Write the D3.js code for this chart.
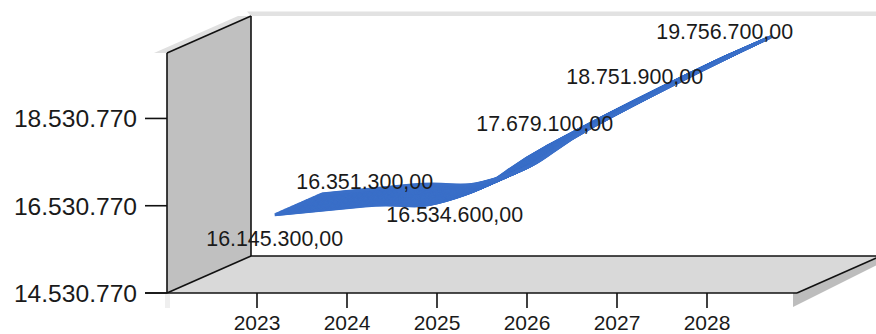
<!DOCTYPE html>
<html>
<head>
<meta charset="utf-8">
<script src="https://cdn.jsdelivr.net/npm/d3@7"></script>
<style>
  html, body { margin: 0; padding: 0; background: #fff; }
  svg { display: block; }
  text { font-family: "Liberation Sans", Arial, sans-serif; fill: #1a1a1a; }
</style>
</head>
<body>
<svg id="chart" width="876" height="334"></svg>
<script>
// Yearly values shown on the 3D spline
const years = ["2023", "2024", "2025", "2026", "2027", "2028"];
const values = [16145300, 16351300, 16534600, 17679100, 18751900, 19756700];
const yTicks = [14530770, 16530770, 18530770];
const yMin = 14530770;
const yMax = 20030770;

// Label placement around each point (pixels above/below the ribbon edge)
const labelShift = [24, -24.5, 16.5, -24.5, -24.5, -25.5];

const W = 876, H = 334;
const svg = d3.select("#chart");

// Front plane of the 3D box
const x = d3.scaleLinear().domain([0, years.length + 1]).range([167, 797]);
const y = d3.scaleLinear().domain([yMin, yMax]).range([293, 53]);

// Oblique depth offset (full depth of the plot box)
const DX = 84, DY = 37;
const P = (xv, yv, z) => [x(xv) + z * DX, y(yv) - z * DY];
const pts = arr => arr.map(p => p.join(",")).join(" ");

const xL = 0, xR = years.length + 1;

// Back wall top rim
const bt = P(xL, yMax, 1);
svg.append("polygon")
  .attr("points", pts([bt, [W, bt[1]], [W, bt[1] - 4.5], [bt[0] - 4, bt[1] - 4.5]]))
  .attr("fill", "#e2e2e2");

// Side wall top rim (wall thickness)
const wt = 13;
svg.append("polygon")
  .attr("points", pts([
    [P(xL, yMax, 0)[0] - wt, P(xL, yMax, 0)[1]],
    P(xL, yMax, 0),
    P(xL, yMax, 1),
    [P(xL, yMax, 1)[0] - wt, P(xL, yMax, 1)[1]]
  ]))
  .attr("fill", "#e0e0e0");

// Faint front edge of the wall base
svg.append("rect")
  .attr("x", x(xL) - 2).attr("y", y(yMin) + 1)
  .attr("width", 5).attr("height", 14)
  .attr("fill", "#efefef");

// Floor right side face
svg.append("polygon")
  .attr("points", pts([
    P(xR, yMin, 0),
    P(xR, yMin, 1),
    [P(xR, yMin, 1)[0], P(xR, yMin, 1)[1] + 7],
    [P(xR, yMin, 0)[0] - 4, P(xR, yMin, 0)[1] + 14],
    [P(xR, yMin, 0)[0] - 4, P(xR, yMin, 0)[1]]
  ]))
  .attr("fill", "#bdbdbd");

// Floor top face
svg.append("polygon")
  .attr("points", pts([P(xL, yMin, 0), P(xR, yMin, 0), P(xR, yMin, 1), P(xL, yMin, 1)]))
  .attr("fill", "#d9d9d9");

// Side wall
svg.append("polygon")
  .attr("points", pts([P(xL, yMin, 0), P(xL, yMax, 0), P(xL, yMax, 1), P(xL, yMin, 1)]))
  .attr("fill", "#c0c0c0");

const edge = (a, b) => svg.append("line")
  .attr("x1", a[0]).attr("y1", a[1]).attr("x2", b[0]).attr("y2", b[1])
  .attr("stroke", "#111").attr("stroke-width", 1.6);

// Box edges
edge(P(xL, yMin, 0), P(xL, yMax, 0));
edge(P(xL, yMax, 0), P(xL, yMax, 1));
edge(P(xL, yMax, 1), P(xL, yMin, 1));
edge(P(xL, yMin, 0), P(xL, yMin, 1));
edge(P(xL, yMin, 1), P(xR, yMin, 1));
edge(P(xR, yMin, 0), P(xR, yMin, 1));
edge([x(xL) - 22, y(yMin)], P(xR, yMin, 0));

// Y axis ticks and labels
yTicks.forEach(v => {
  edge([x(xL) - 22, y(v)], [x(xL), y(v)]);
  svg.append("text")
    .attr("x", 137).attr("y", y(v) + 8.8)
    .attr("text-anchor", "end")
    .attr("font-size", 24.6)
    .text(d3.format(",")(v).replace(/,/g, "."));
});

// X axis ticks and labels
years.forEach((yr, i) => {
  edge([x(i + 1), y(yMin)], [x(i + 1), y(yMin) + 15]);
  svg.append("text")
    .attr("x", x(i + 1)).attr("y", 330)
    .attr("text-anchor", "middle")
    .attr("font-size", 21)
    .text(yr);
});

// Spline ribbon: the front-edge curve swept through part of the depth
const z1 = 0.21, z2 = 0.77;
const blue = "#3a6fc8";
const spline = d3.line().curve(d3.curveCardinal.tension(-0.6));
const frontPts = values.map((v, i) => P(i + 1, v, z1));
const ribbon = svg.append("g")
  .attr("fill", "none")
  .attr("stroke", blue)
  .attr("stroke-width", 3.2)
  .attr("stroke-linejoin", "round");
const steps = 48;
for (let k = 0; k <= steps; k++) {
  const dz = (z2 - z1) * k / steps;
  ribbon.append("path")
    .attr("d", spline(frontPts))
    .attr("transform", `translate(${dz * DX},${-dz * DY})`);
}

// Value labels
const fmtValue = v => {
  const s = d3.format(",.2f")(v);
  return s.replace(/,/g, "#").replace(".", ",").replace(/#/g, ".");
};
values.forEach((v, i) => {
  const p = P(i + 1, v, z1);
  const fs = 21.4;
  svg.append("text")
    .attr("x", p[0]).attr("y", p[1] + labelShift[i] + fs * 0.358)
    .attr("text-anchor", "middle")
    .attr("font-size", fs)
    .text(fmtValue(v));
});
</script>
</body>
</html>
